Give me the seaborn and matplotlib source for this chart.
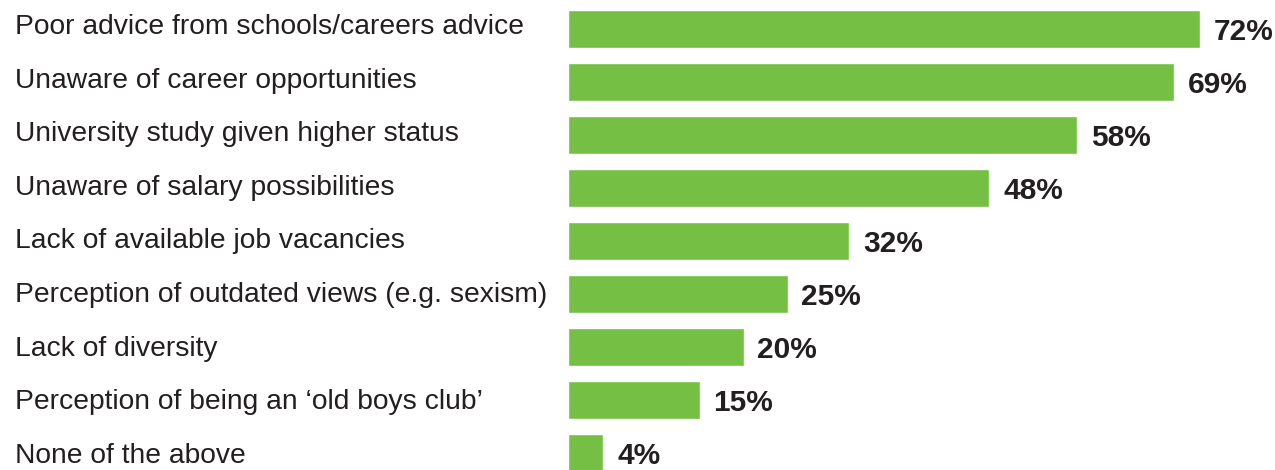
import matplotlib
matplotlib.use("Agg")
import matplotlib.pyplot as plt
import matplotlib.transforms as mtransforms
import seaborn as sns
import pandas as pd

# Survey responses: barriers to entering the industry
reasons = [
    "Poor advice from schools/careers advice",
    "Unaware of career opportunities",
    "University study given higher status",
    "Unaware of salary possibilities",
    "Lack of available job vacancies",
    "Perception of outdated views (e.g. sexism)",
    "Lack of diversity",
    "Perception of being an \u2018old boys club\u2019",
    "None of the above",
]
percentages = [72, 69, 58, 48, 32, 25, 20, 15, 4]

df = pd.DataFrame({"reason": reasons, "pct": percentages})

sns.set_theme(style="white")
plt.rcParams["font.family"] = ["Liberation Sans", "DejaVu Sans"]

BAR_GREEN = "#74bf44"
TEXT_DARK = "#231f20"

W, H = 1275, 470
PITCH = 53.0          # pixels between bar centres
FIRST = 29.0          # pixel centre of the first bar
LEFT = 568            # pixel where the bars start

fig = plt.figure(figsize=(W / 100, H / 100), dpi=100)
ax = fig.add_axes([LEFT / W, 0.0, 1 - LEFT / W, 1.0])

sns.barplot(data=df, x="pct", y="reason", orient="h", color=BAR_GREEN,
            saturation=1, width=0.72, ax=ax)

ax.set_xlim(0, (W - LEFT) / 8.78)
ax.set_ylim((H - FIRST) / PITCH, -FIRST / PITCH)
ax.axis("off")

# Category labels at the left edge of the figure (slightly wider spacing than bars)
trans = mtransforms.blended_transform_factory(fig.transFigure, ax.transData)
for i, r in enumerate(reasons):
    y_base = (34 + 53.6 * i - FIRST) / PITCH
    ax.text(15 / W, y_base, r, transform=trans, ha="left", va="baseline",
            fontsize=20.3, color=TEXT_DARK, clip_on=False)

# Value labels just past the end of each bar, vertically centred on the bar
for i, v in enumerate(percentages):
    ax.annotate(f"{v}%", xy=(v, i), xytext=(10, -8.2), textcoords="offset points",
                ha="left", va="baseline", fontsize=21.5, fontweight="bold",
                color=TEXT_DARK, annotation_clip=False)

fig.savefig("out.png", dpi=100)
